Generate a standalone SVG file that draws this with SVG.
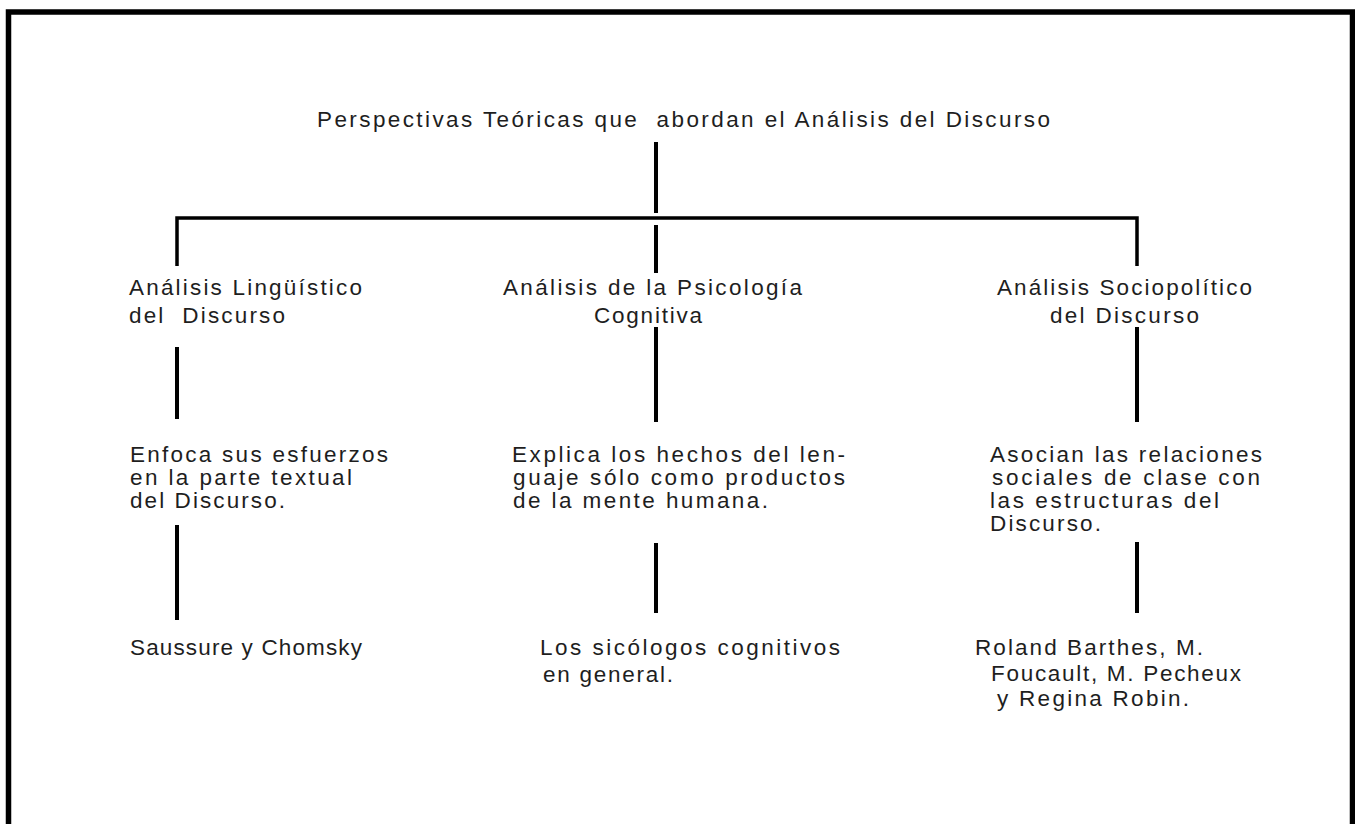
<svg xmlns="http://www.w3.org/2000/svg" width="1355" height="824" viewBox="0 0 1355 824">
<style>
text{font-family:"Liberation Sans",Arial,sans-serif;font-size:22.5px;fill:#1e1e1e;white-space:pre}
.ln{stroke:#000;stroke-width:4;fill:none}
.hl{stroke:#000;stroke-width:3.5;fill:none}
</style>
<rect x="0" y="0" width="1355" height="824" fill="#fff"/>
<rect x="8.5" y="12" width="1344" height="900" fill="none" stroke="#000" stroke-width="5.5"/>
<g id="connectors">
<line class="ln" x1="656" y1="142" x2="656" y2="213"/>
<polyline class="hl" points="177,266 177,218 1137,218 1137,266"/>
<line class="ln" x1="656" y1="225" x2="656" y2="273"/>
<line class="ln" x1="656" y1="327" x2="656" y2="422"/>
<line class="ln" x1="656" y1="543" x2="656" y2="613"/>
<line class="ln" x1="177" y1="347" x2="177" y2="419"/>
<line class="ln" x1="177" y1="525" x2="177" y2="620"/>
<line class="ln" x1="1137" y1="327" x2="1137" y2="422"/>
<line class="ln" x1="1137" y1="542" x2="1137" y2="613"/>
</g>
<g id="title"><text x="317" y="127" textLength="733" lengthAdjust="spacing">Perspectivas Teóricas que  abordan el Análisis del Discurso</text></g>
<g id="n-linguistico">
<text x="129" y="295" textLength="233" lengthAdjust="spacing">Análisis Lingüístico</text>
<text x="129" y="323" textLength="156" lengthAdjust="spacing">del  Discurso</text>
</g>
<g id="n-psicologia">
<text x="503" y="295" textLength="299" lengthAdjust="spacing">Análisis de la Psicología</text>
<text x="594" y="323" textLength="108" lengthAdjust="spacing">Cognitiva</text>
</g>
<g id="n-sociopolitico">
<text x="997" y="295" textLength="255" lengthAdjust="spacing">Análisis Sociopolítico</text>
<text x="1050" y="323" textLength="149" lengthAdjust="spacing">del Discurso</text>
</g>
<g id="n-enfoca">
<text x="130" y="462" textLength="258" lengthAdjust="spacing">Enfoca sus esfuerzos</text>
<text x="130" y="485" textLength="222" lengthAdjust="spacing">en la parte textual</text>
<text x="130" y="508" textLength="155" lengthAdjust="spacing">del Discurso.</text>
</g>
<g id="n-explica">
<text x="512" y="462" textLength="333" lengthAdjust="spacing">Explica los hechos del len-</text>
<text x="513" y="485" textLength="332" lengthAdjust="spacing">guaje sólo como productos</text>
<text x="513" y="508" textLength="255" lengthAdjust="spacing">de la mente humana.</text>
</g>
<g id="n-asocian">
<text x="990" y="462" textLength="272" lengthAdjust="spacing">Asocian las relaciones</text>
<text x="992" y="485" textLength="268" lengthAdjust="spacing">sociales de clase con</text>
<text x="990" y="508" textLength="229" lengthAdjust="spacing">las estructuras del</text>
<text x="990" y="531" textLength="111" lengthAdjust="spacing">Discurso.</text>
</g>
<g id="n-saussure">
<text x="130" y="655" textLength="232" lengthAdjust="spacing">Saussure y Chomsky</text>
</g>
<g id="n-sicologos">
<text x="540" y="655" textLength="300" lengthAdjust="spacing">Los sicólogos cognitivos</text>
<text x="543" y="682" textLength="130" lengthAdjust="spacing">en general.</text>
</g>
<g id="n-barthes">
<text x="975" y="655" textLength="228" lengthAdjust="spacing">Roland Barthes, M.</text>
<text x="991" y="681" textLength="250" lengthAdjust="spacing">Foucault, M. Pecheux</text>
<text x="997" y="706" textLength="192" lengthAdjust="spacing">y Regina Robin.</text>
</g>
</svg>
